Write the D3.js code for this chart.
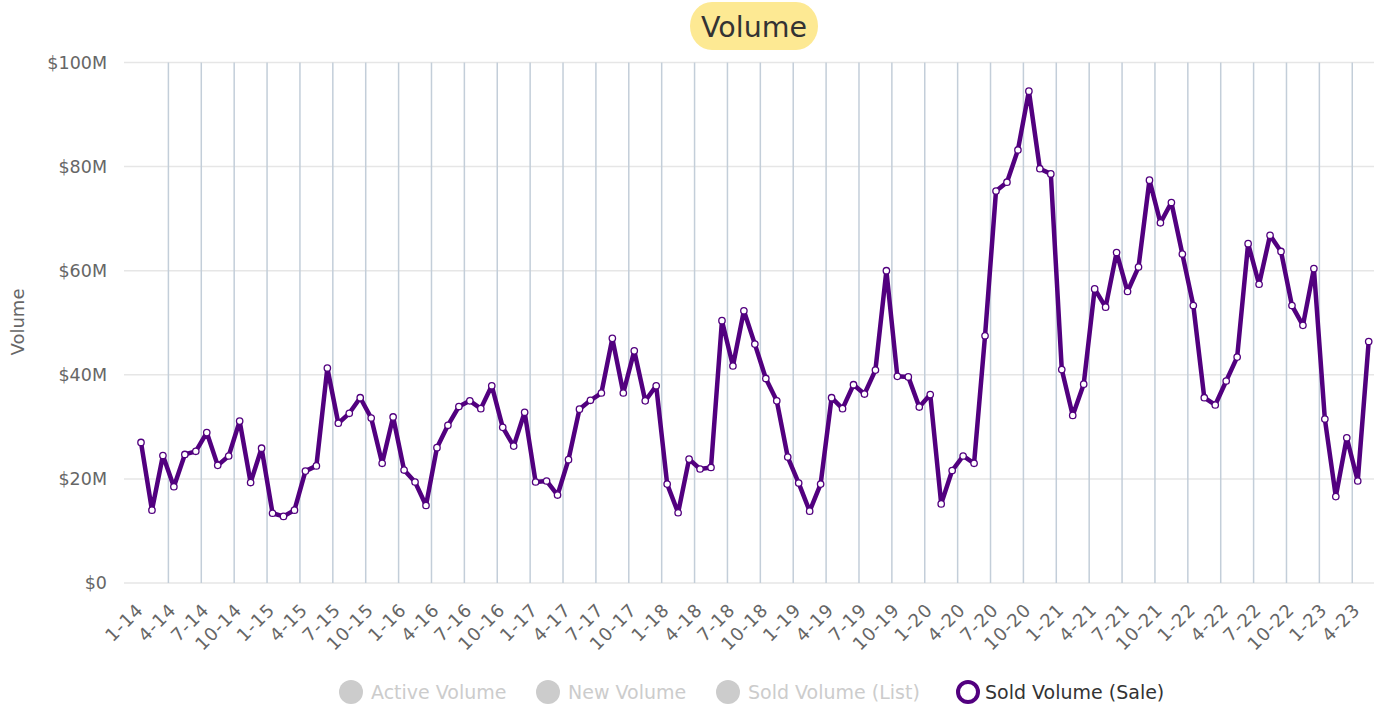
<!DOCTYPE html>
<html>
<head>
<meta charset="utf-8">
<script src="https://cdn.jsdelivr.net/npm/d3@7"></script>
<style>
  body { margin: 0; background: #fff; }
  svg { display: block; font-family: "DejaVu Sans", sans-serif; }
</style>
</head>
<body>
<svg id="chart"></svg>
<script>
// months run from 1-14 to 5-23
const startYear = 14, endYear = 23, lastMonth = 5;
const months = [];
for (let y = startYear; y <= endYear; y++) {
    for (let m = 1; m <= 12; m++) {
        if (y === endYear && m > lastMonth) break;
        months.push(m + "-" + y);
    }
}

// Sold Volume (Sale), $M per month
const soldSale = [
    27.0, 14.0, 24.5, 18.5, 24.7, 25.3, 28.9, 22.6, 24.4, 31.1, 19.3, 25.9,
    13.4, 12.8, 14.0, 21.5, 22.5, 41.3, 30.7, 32.6, 35.6, 31.7, 23.0, 31.9,
    21.7, 19.4, 14.9, 26.0, 30.3, 33.9, 35.0, 33.5, 37.9, 29.9, 26.3, 32.8,
    19.4, 19.6, 16.9, 23.7, 33.4, 35.1, 36.5, 47.0, 36.5, 44.6, 35.0, 37.9,
    19.0, 13.5, 23.8, 21.9, 22.2, 50.4, 41.7, 52.3, 45.9, 39.3, 35.0, 24.2,
    19.2, 13.8, 19.0, 35.6, 33.5, 38.1, 36.3, 40.9, 60.0, 39.7, 39.6, 33.8,
    36.2, 15.2, 21.6, 24.4, 23.0, 47.5, 75.3, 77.0, 83.2, 94.5, 79.6, 78.6,
    41.0, 32.2, 38.2, 56.5, 53.0, 63.5, 56.0, 60.7, 77.4, 69.2, 73.1, 63.2,
    53.3, 35.6, 34.2, 38.8, 43.4, 65.2, 57.4, 66.8, 63.7, 53.3, 49.5, 60.4,
    31.5, 16.6, 27.9, 19.6, 46.4
];

const yTicks = [0, 20, 40, 60, 80, 100];
const legendItems = ["Active Volume", "New Volume", "Sold Volume (List)", "Sold Volume (Sale)"];
const activeSeries = "Sold Volume (Sale)";

const width = 1390, height = 708;
const plotLeft = 124, plotRight = 1374, plotTop = 62.5, plotBottom = 583;
const purple = "#52007f";

const svg = d3.select("#chart").attr("width", width).attr("height", height);

const x = d3.scalePoint()
    .domain(months)
    .range([141, 1368.7]);
const step = x.step();

const y = d3.scaleLinear()
    .domain([0, 100])
    .range([plotBottom, plotTop]);

// horizontal grid
svg.append("g")
    .selectAll("line")
    .data(yTicks).enter().append("line")
    .attr("x1", plotLeft).attr("x2", plotRight)
    .attr("y1", d => y(d)).attr("y2", d => y(d))
    .attr("stroke", "#e6e6e6")
    .attr("stroke-width", 1.5);

// vertical grid, every third month boundary
const tickMonths = months.filter((m, i) => i % 3 === 0);
svg.append("g")
    .selectAll("line")
    .data(tickMonths.slice(1)).enter().append("line")
    .attr("x1", d => x(d) - step / 2).attr("x2", d => x(d) - step / 2)
    .attr("y1", plotTop).attr("y2", plotBottom)
    .attr("stroke", "#c3ced9")
    .attr("stroke-width", 1.5);

// y axis
const axisLeft = d3.axisLeft(y)
    .tickValues(yTicks)
    .tickSize(0)
    .tickPadding(0)
    .tickFormat(d => "$" + d + (d === 0 ? "" : "M"));
const gy = svg.append("g")
    .attr("transform", "translate(107,0)")
    .call(axisLeft);
gy.select(".domain").remove();
gy.selectAll("text")
    .attr("fill", "#666")
    .attr("font-size", "17.5px")
    .attr("font-family", "DejaVu Sans, sans-serif");

svg.append("text")
    .attr("transform", "translate(24,322) rotate(-90)")
    .attr("text-anchor", "middle")
    .attr("fill", "#666")
    .attr("font-size", "18px")
    .text("Volume");

// x axis labels
const axisBottom = d3.axisBottom(x)
    .tickValues(tickMonths)
    .tickSize(0)
    .tickPadding(0);
const gx = svg.append("g")
    .attr("transform", "translate(0," + plotBottom + ")")
    .call(axisBottom);
gx.select(".domain").remove();
gx.selectAll("text")
    .attr("fill", "#666")
    .attr("font-size", "18px")
    .attr("letter-spacing", "1px")
    .attr("font-family", "DejaVu Sans, sans-serif")
    .attr("text-anchor", "end")
    .attr("dy", null)
    .attr("y", 0)
    .attr("transform", "translate(3,28) rotate(-45)");

// series line
const line = d3.line()
    .x((d, i) => x(months[i]))
    .y(d => y(d));

svg.append("path")
    .attr("d", line(soldSale))
    .attr("fill", "none")
    .attr("stroke", purple)
    .attr("stroke-width", 4.5)
    .attr("stroke-linejoin", "round")
    .attr("stroke-linecap", "round");

svg.append("g")
    .selectAll("circle")
    .data(soldSale).enter().append("circle")
    .attr("cx", (d, i) => x(months[i]))
    .attr("cy", d => y(d))
    .attr("r", 3.2)
    .attr("fill", "#fff")
    .attr("stroke", purple)
    .attr("stroke-width", 1.3);

// title with highlight
const title = svg.append("g");
title.append("rect")
    .attr("x", 690).attr("y", 2)
    .attr("width", 128).attr("height", 48)
    .attr("rx", 22).attr("ry", 24)
    .attr("fill", "#fde993");
title.append("text")
    .attr("x", 754).attr("y", 37)
    .attr("text-anchor", "middle")
    .attr("fill", "#333")
    .attr("font-size", "28.5px")
    .text("Volume");

// legend
const legendX = [351, 548, 728, 968];
const legend = svg.append("g");
legendItems.forEach((name, i) => {
    const on = name === activeSeries;
    const g = legend.append("g").attr("transform", "translate(" + legendX[i] + ",692)");
    g.append("circle")
        .attr("r", on ? 10 : 12)
        .attr("fill", on ? "#fff" : "#cccccc")
        .attr("stroke", on ? purple : "none")
        .attr("stroke-width", on ? 4 : 0);
    g.append("text")
        .attr("x", on ? 17 : 20).attr("y", 7)
        .attr("fill", on ? "#333" : "#cccccc")
        .attr("font-size", "19px")
        .text(name);
});
</script>
</body>
</html>
